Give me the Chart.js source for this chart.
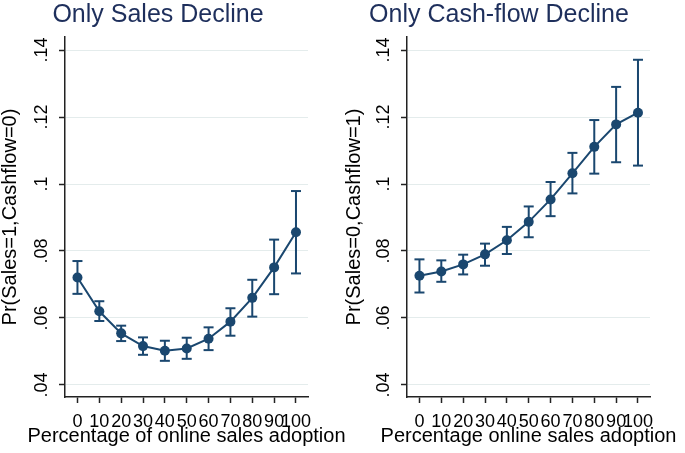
<!DOCTYPE html>
<html>
<head>
<meta charset="utf-8">
<script src="https://cdn.jsdelivr.net/npm/chart.js"></script>
<style>
body { margin: 0; background: #fff; }
canvas { position: absolute; top: 0; }
#left { left: 0; }
#right { left: 340px; }
</style>
</head>
<body>
<canvas id="left" width="350" height="453" style="width:350px;height:453px"></canvas>
<canvas id="right" width="345" height="453" style="width:345px;height:453px"></canvas>
<script>
// percentage of online sales adoption
var xVals = [0, 10, 20, 30, 40, 50, 60, 70, 80, 90, 100];
var xTickLabels = ["0", "10", "20", "30", "40", "50", "60", "70", "80", "90", "100"];
var yTicks = [0.04, 0.06, 0.08, 0.1, 0.12, 0.14];
var yTickLabels = [".04", ".06", ".08", ".1", ".12", ".14"];

// Only Sales Decline: Pr(Sales=1,Cashflow=0)
var salesMean = [0.0721, 0.0620, 0.0554, 0.0516, 0.0502, 0.0509, 0.0538, 0.0589, 0.0660, 0.0751, 0.0856];
var salesLo   = [0.0672, 0.0591, 0.0531, 0.0490, 0.0472, 0.0478, 0.0504, 0.0547, 0.0604, 0.0671, 0.0733];
var salesHi   = [0.0770, 0.0650, 0.0577, 0.0542, 0.0532, 0.0541, 0.0572, 0.0629, 0.0714, 0.0834, 0.0979];

// Only Cash-flow Decline: Pr(Sales=0,Cashflow=1)
var cashMean = [0.0726, 0.0739, 0.0760, 0.0790, 0.0832, 0.0887, 0.0954, 0.1032, 0.1111, 0.1178, 0.1213];
var cashLo   = [0.0676, 0.0708, 0.0730, 0.0756, 0.0791, 0.0841, 0.0904, 0.0972, 0.1031, 0.1065, 0.1055];
var cashHi   = [0.0775, 0.0772, 0.0789, 0.0822, 0.0872, 0.0933, 0.1006, 0.1093, 0.1191, 0.1290, 0.1371];

var navy = "#1a476f";
var axisColor = "#222";
var font = "'Liberation Sans', Arial, sans-serif";

// x axis title is wider than the plot, so draw it ourselves (scale title would squeeze it)
var xTitlePlugin = {
    id: "xTitle",
    afterDraw: function(chart) {
        var ctx = chart.ctx;
        var a = chart.chartArea;
        ctx.save();
        ctx.font = "20px " + font;
        ctx.fillStyle = "#000";
        ctx.textAlign = "center";
        ctx.textBaseline = "middle";
        ctx.fillText(chart.options.xTitleText, (a.left + a.right) / 2, 436);
        ctx.restore();
    }
};

function errData(lo, hi) {
    var d = [];
    xVals.forEach(function(x, i) {
        d.push({x: x, y: lo[i]});
        d.push({x: x, y: hi[i]});
        d.push({x: x, y: null});
    });
    return d;
}

function makeChart(id, title, yTitle, xTitle, mean, lo, hi, pad, yWidth, yTitlePad) {
    var ctx = document.getElementById(id);
    return new Chart(ctx, {
        type: "scatter",
        data: {
            datasets: [
                {
                    data: xVals.map(function(x, i) { return {x: x, y: mean[i]}; }),
                    showLine: true,
                    borderColor: navy,
                    borderWidth: 2,
                    pointRadius: 5,
                    pointBackgroundColor: navy,
                    pointBorderWidth: 0
                },
                {
                    data: errData(lo, hi),
                    showLine: true,
                    spanGaps: false,
                    borderColor: navy,
                    borderWidth: 2,
                    pointStyle: "line",
                    pointRadius: 5,
                    pointBorderColor: navy,
                    pointBorderWidth: 2
                }
            ]
        },
        options: {
            responsive: false,
            animation: false,
            events: [],
            xTitleText: xTitle,
            layout: { padding: pad },
            plugins: {
                legend: { display: false },
                tooltip: { enabled: false },
                title: {
                    display: true,
                    text: title,
                    color: "#1e2f5c",
                    font: { family: font, size: 25, weight: "normal" },
                    padding: { top: 0, bottom: 7 }
                }
            },
            scales: {
                x: {
                    type: "linear",
                    min: -5.7,
                    max: 105.5,
                    afterBuildTicks: function(s) { s.ticks = xVals.map(function(v) { return {value: v}; }); },
                    afterFit: function(s) { s.height = 56; s.paddingLeft = 0; s.paddingRight = 0; },
                    ticks: {
                        autoSkip: false,
                        maxRotation: 0,
                        padding: 8,
                        color: "#000",
                        font: { family: font, size: 18 },
                        callback: function(v, i) { return xTickLabels[i]; }
                    },
                    grid: { drawOnChartArea: false, tickLength: 6, tickColor: axisColor, tickWidth: 1.5 },
                    border: { color: axisColor, width: 1.5 }
                },
                y: {
                    min: 0.0364,
                    max: 0.1439,
                    afterBuildTicks: function(s) { s.ticks = yTicks.map(function(v) { return {value: v}; }); },
                    afterFit: function(s) { s.width = yWidth; s.paddingTop = 0; s.paddingBottom = 0; },
                    ticks: {
                        autoSkip: false,
                        minRotation: 90,
                        maxRotation: 90,
                        crossAlign: "center",
                        padding: 4,
                        color: "#000",
                        font: { family: font, size: 18 },
                        callback: function(v, i) { return yTickLabels[i]; }
                    },
                    grid: { color: "#e4ecec", lineWidth: 1, tickLength: 6, tickColor: axisColor, tickWidth: 1.5 },
                    border: { color: axisColor, width: 1.5 },
                    title: {
                        display: true,
                        text: yTitle,
                        color: "#000",
                        font: { family: font, size: 20 },
                        padding: { top: yTitlePad, bottom: 0 }
                    }
                }
            }
        },
        plugins: [xTitlePlugin]
    });
}

makeChart("left", "Only Sales Decline", "Pr(Sales=1,Cashflow=0)", "Percentage of online sales adoption",
    salesMean, salesLo, salesHi, {left: 8, right: 42, top: 0, bottom: 0}, 57, -10);
makeChart("right", "Only Cash-flow Decline", "Pr(Sales=0,Cashflow=1)", "Percentage online sales adoption",
    cashMean, cashLo, cashHi, {left: 8, right: 35, top: 0, bottom: 0}, 59, -6);
</script>
</body>
</html>
